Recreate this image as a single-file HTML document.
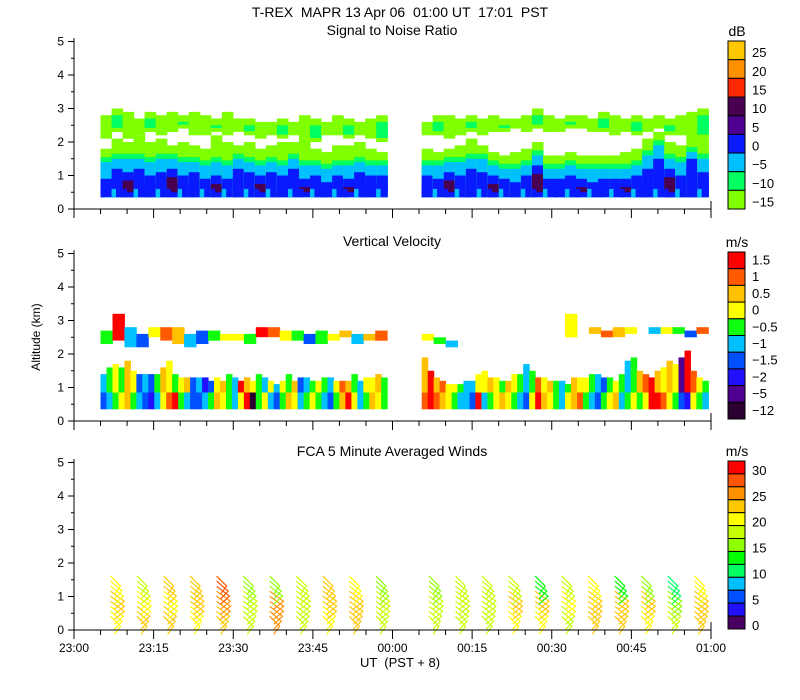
<!DOCTYPE html>
<html><head><meta charset="utf-8">
<style>
html,body{margin:0;padding:0;background:#fff;}
svg{display:block;font-family:"Liberation Sans",sans-serif;}
text{white-space:pre;}
</style></head>
<body>
<svg id="chart" width="800" height="700" viewBox="0 0 800 700" xmlns="http://www.w3.org/2000/svg">
<text x="400" y="17" font-size="14" text-anchor="middle">T-REX  MAPR 13 Apr 06  01:00 UT  17:01  PST</text>
<text x="392" y="35" font-size="14" text-anchor="middle">Signal to Noise Ratio</text>
<text x="392" y="246" font-size="14" text-anchor="middle">Vertical Velocity</text>
<text x="392" y="456" font-size="14" text-anchor="middle">FCA 5 Minute Averaged Winds</text>
<text x="40" y="337" font-size="12" text-anchor="middle" transform="rotate(-90 40 337)">Altitude (km)</text>
<text x="400" y="667" font-size="13" text-anchor="middle">UT  (PST + 8)</text>
<g id="g"></g>
</svg>
<script>
// ---- data ----
const xTickLabels=["23:00","23:15","23:30","23:45","00:00","00:15","00:30","00:45","01:00"];
const yTickLabels=["0","1","2","3","4","5"];
const snrLabels=["25","20","15","10","5","0","\u22125","\u221210","\u221215"];
const velLabels=["1.5","1","0.5","0","\u22120.5","\u22121","\u22121.5","\u22122","\u22125","\u221212"];
const windLabels=["30","25","20","15","10","5","0"];
const snrH1a=[0.9,1.2,1.1,1.2,1.0,1.1,1.2,1.0,1.1,0.9,1.0,0.9,1.2,1.1,1.0,1.1,1.0,1.2,0.9,1.0,0.8,1.0,0.9,1.1,1.0,1.0];
const snrH2a=[1.4,1.5,1.5,1.5,1.4,1.5,1.5,1.4,1.4,1.3,1.4,1.3,1.5,1.4,1.3,1.4,1.3,1.5,1.3,1.3,1.2,1.3,1.3,1.4,1.3,1.3];
const snrH4a=[1.8,2.1,2.0,2.2,2.0,2.1,1.9,2.0,1.9,1.8,2.2,2.0,1.9,2.0,1.8,1.9,2.0,2.0,2.1,1.8,1.7,1.9,1.9,2.0,1.8,1.7];
const snrCBa=[2.1,2.3,2.1,2.2,2.3,2.2,2.3,2.4,2.2,2.2,2.3,2.2,2.3,2.2,2.1,2.2,2.1,2.2,2.1,2.0,2.2,2.2,2.1,2.2,2.1,2.0];
const snrCTa=[2.8,3.0,2.9,2.7,2.9,2.8,2.9,2.8,2.9,2.8,2.7,2.9,2.7,2.7,2.6,2.6,2.7,2.6,2.8,2.7,2.6,2.8,2.7,2.6,2.7,2.8];
const snrH1b=[1.0,0.9,1.1,1.0,1.2,1.1,1.0,0.9,0.8,1.0,1.3,0.9,0.9,1.0,0.9,0.8,0.9,0.9,0.9,1.0,1.2,1.5,1.2,1.0,1.5,1.1];
const snrH2b=[1.3,1.3,1.4,1.4,1.5,1.5,1.3,1.2,1.2,1.3,1.6,1.2,1.2,1.3,1.2,1.2,1.2,1.2,1.2,1.3,1.6,1.9,1.5,1.4,1.7,1.5];
const snrH4b=[1.8,1.7,1.8,1.9,2.1,1.9,1.7,1.6,1.7,1.8,2.0,1.6,1.6,1.7,1.6,1.6,1.6,1.6,1.7,1.8,2.1,2.3,2.0,1.9,2.1,2.1];
const snrCBb=[2.2,2.2,2.1,2.2,2.3,2.2,2.3,2.3,2.4,2.3,2.4,2.3,2.3,2.4,2.4,2.3,2.3,2.2,2.3,2.2,2.3,2.4,2.2,2.2,2.1,2.1];
const snrCTb=[2.6,2.8,2.8,2.7,2.8,2.7,2.8,2.7,2.7,2.8,3.0,2.8,2.7,2.8,2.8,2.7,2.9,2.8,2.7,2.8,2.7,2.8,2.7,2.8,2.9,3.0];
const velLowA=[3,4,5,6,7,5,4,3,2,4,6,8,9,5,4,3,3,4,5,7,6,5,4,6,9,0,5,6,4,3,5,7,6,4,5,6,5,4,3,5,7,9,6,4,5,7,6,5];
const velUpA=[4,5,6,5,7,6,3,4,3,5,7,6,5,6,7,3,4,2,3,6,7,5,4,9,7,6,5,4,6,4,6,5,7,3,4,5,6,5,4,6,8,7,5,4,6,6,7,5];
const velTopA=[1.4,1.6,1.7,1.6,1.8,1.5,1.4,1.4,1.4,1.4,1.6,1.8,1.4,1.3,1.3,1.3,1.3,1.3,1.2,1.3,1.2,1.4,1.3,1.2,1.3,1.2,1.4,1.3,1.2,1.1,1.2,1.4,1.2,1.3,1.3,1.2,1.2,1.3,1.3,1.2,1.2,1.2,1.4,1.2,1.3,1.3,1.4,1.3];
const velLowB=[8,9,8,7,6,5,4,4,3,9,4,5,6,7,6,5,4,3,6,9,7,6,5,4,6,7,8,5,4,3,5,6,7,4,5,6,5,6,9,9,8,6,5,3,2,6,5,4];
const velUpB=[7,9,7,8,6,6,5,4,4,6,6,7,6,5,7,6,5,4,5,8,6,7,5,4,5,7,6,6,5,4,3,5,6,5,4,5,7,8,9,7,6,7,6,1,9,8,6,5];
const velTopB=[1.9,1.5,1.3,1.2,1.1,1.1,1.1,1.2,1.2,1.4,1.5,1.3,1.3,1.2,1.2,1.4,1.4,1.7,1.5,1.3,1.3,1.2,1.2,1.2,1.1,1.3,1.3,1.3,1.4,1.4,1.3,1.3,1.2,1.4,1.8,1.9,1.5,1.4,1.3,1.5,1.6,1.8,1.7,1.9,2.1,1.5,1.3,1.2];
const velCldBaseA=[2.3,2.4,2.2,2.2,2.5,2.4,2.3,2.2,2.3,2.4,2.4,2.4,2.3,2.5,2.5,2.4,2.4,2.3,2.3,2.4,2.5,2.3,2.4,2.4];
const velCldTopA=[2.7,3.2,2.8,2.6,2.8,2.8,2.8,2.6,2.7,2.7,2.6,2.6,2.6,2.8,2.8,2.7,2.7,2.6,2.7,2.6,2.7,2.6,2.6,2.7];
const velCldClsA=[5,9,4,3,6,8,7,4,3,5,6,6,5,9,8,6,5,3,5,6,7,4,7,8];
const velCldBaseB=[2.4,2.3,2.2,0,0,0,0,0,0,0,0,0,2.5,0,2.6,2.5,2.5,2.6,0,2.6,2.6,2.6,2.5,2.6];
const velCldTopB=[2.6,2.5,2.4,0,0,0,0,0,0,0,0,0,3.2,0,2.8,2.7,2.8,2.8,0,2.8,2.8,2.8,2.7,2.8];
const velCldClsB=[6,5,4,0,0,0,0,0,0,0,0,0,6,0,7,8,7,6,0,4,6,5,3,8];
const windTimes=[8,13,18,23,28,33,38,43,48,53,58,68,73,78,83,88,93,98,103,108,113,118];
const windSpdLow=[22,23,24,21,24,20,26,20,21,23,20,20,20,20,22,21,20,23,24,22,18,23];
const windSpdMid=[23,21,21,24,27,18,27,20,24,23,20,18,20,20,25,23,21,23,24,23,16,24];
const windSpdTop=[22,19,23,23,28,17,17,20,25,21,16,17,20,20,18,14,20,22,15,16,12,22];

const X0=74,X1=711;
function xs(min){return X0+(X1-X0)*min/120;}
const panels=[{y0:209,name:"snr"},{y0:421,name:"velocity"},{y0:630,name:"winds"}];
const KPX=33.5;
function ys(p,km){return panels[p].y0-km*KPX;}

const g=document.getElementById('g');
const NS="http://www.w3.org/2000/svg";
function el(t,a,parent){const e=document.createElementNS(NS,t);for(const k in a)e.setAttribute(k,a[k]);(parent||g).appendChild(e);return e;}

const snrColors=["#ffc800","#ff9000","#ff2800","#4a0050","#500090","#0a1aff","#00c0ff","#00ff60","#80ff00"];
// index 0 = -12 (dark) ... 9 = 1.5 (red)
const velColors=["#2a0030","#500090","#2010ff","#0050ff","#00c0ff","#10ff10","#ffff00","#ffc000","#ff5a00","#ff0000"];
const windColors=["#ff0000","#ff5500","#ff9000","#ffc800","#ffff00","#c8ff00","#90ff00","#00ff00","#00ff60","#00c0ff","#0050ff","#2010ff","#4a0060"];

function drawSnr(h1,h2,h4,cb,ct,t0,t1,seg){
  const n=h1.length,w=(xs(t1)-xs(t0))/n;
  const grp=el('g',{});
  
  
  for(let i=0;i<n;i++){
    const x=xs(t0)+i*w, base=0.35;
    const layers=[[cb[i],ct[i],8],[cb[i]+0.12,ct[i]-0.2,(i%3===1)?7:8],[base,h4[i],8],[base,h2[i]+0.15,7],[base,h2[i],6],[base,h1[i],5],[base+0.15,h1[i]-0.25,(i%4===2)?3:5]];
    for(const [a,b,c] of layers){
      if(b<=a)continue;
      const r=el('rect',{x:x.toFixed(1),y:ys(0,b).toFixed(1),width:(w+0.6).toFixed(1),height:((b-a)*KPX).toFixed(1),fill:snrColors[c]},grp);
      
      
    }
    const r2=el('rect',{x:x.toFixed(1),y:ys(0,0.6).toFixed(1),width:(w*0.4).toFixed(1),height:(0.25*KPX).toFixed(1),fill:snrColors[(i%2)?6:5]},grp);
    
    
  }
}
drawSnr(snrH1a,snrH2a,snrH4a,snrCBa,snrCTa,5,59,'a');
drawSnr(snrH1b,snrH2b,snrH4b,snrCBb,snrCTb,65.5,119.5,'b');

function drawVel(low,up,top,cbase,ctop,ccls,t0,t1,seg){
  const grp=el('g',{});
  
  
  const n=low.length,w=(xs(t1)-xs(t0))/n;
  for(let i=0;i<n;i++){
    const x=xs(t0)+i*w;
    const r1=el('rect',{x:x.toFixed(1),y:ys(1,0.85).toFixed(1),width:(w+0.5).toFixed(1),height:(0.5*KPX).toFixed(1),fill:velColors[low[i]]},grp);
    
    
    const r2=el('rect',{x:x.toFixed(1),y:ys(1,top[i]).toFixed(1),width:(w+0.5).toFixed(1),height:((top[i]-0.85)*KPX).toFixed(1),fill:velColors[up[i]]},grp);
    
    
  }
  const m=cbase.length,w2=(xs(t1)-xs(t0))/m;
  for(let i=0;i<m;i++){
    if(ctop[i]<=cbase[i])continue;
    const x=xs(t0)+i*w2;
    const r=el('rect',{x:x.toFixed(1),y:ys(1,ctop[i]).toFixed(1),width:(w2+0.5).toFixed(1),height:((ctop[i]-cbase[i])*KPX).toFixed(1),fill:velColors[ccls[i]]},grp);
    
    
  }
}
drawVel(velLowA,velUpA,velTopA,velCldBaseA,velCldTopA,velCldClsA,5,59,'a');
drawVel(velLowB,velUpB,velTopB,velCldBaseB,velCldTopB,velCldClsB,65.5,119.5,'b');

function windColor(s){let k=Math.floor((32.5-s)/2.5);return windColors[Math.max(0,Math.min(12,k))];}
windTimes.forEach((t,i)=>{
  const grp=el('g',{});
  
  
  const xc=xs(t);
  for(let j=0;j<9;j++){
    const h=0.05+j*0.15;
    const s=j<3?windSpdLow[i]:(j<6?windSpdMid[i]:windSpdTop[i]);
    const y=ys(2,h);
    const bend=4+4*Math.sin(j/8*Math.PI);
    const p=el('polyline',{points:`${(xc-6).toFixed(1)},${(y-12).toFixed(1)} ${(xc+bend).toFixed(1)},${(y-2).toFixed(1)} ${(xc-2).toFixed(1)},${(y+6).toFixed(1)}`,fill:'none',stroke:windColor(s),'stroke-width':1.2},grp);
    
    
  }
});

panels.forEach((p,pi)=>{
  const ax=el('g',{stroke:'#000','stroke-width':1,fill:'none'});
  
  
  el('line',{x1:X0,y1:ys(pi,5.1),x2:X0,y2:p.y0},ax);
  el('line',{x1:X0,y1:p.y0,x2:X1,y2:p.y0},ax);
  el('line',{x1:X1,y1:p.y0,x2:X1,y2:p.y0-8},ax);
  for(let k=0;k<=10;k++){const y=ys(pi,k/2);el('line',{x1:X0-(k%2?3:6),y1:y,x2:X0,y2:y},ax);}
  for(let m=0;m<=120;m+=5){const x=xs(m);el('line',{x1:x,y1:p.y0,x2:x,y2:p.y0+(m%15?5:9)},ax);}
  yTickLabels.forEach((l,k)=>{
    const t=el('text',{x:X0-10,y:ys(pi,k)+4,'font-size':12,'text-anchor':'end',fill:'#000'});
    t.textContent=l;
    
    
  });
});
xTickLabels.forEach((l,k)=>{
  const t=el('text',{x:xs(k*15),y:652,'font-size':12,'text-anchor':'middle',fill:'#000'});
  t.textContent=l;
  
  
});

function colorbar(name,unit,colors,labels,top,bottom,labelStep,labelOffset){
  const grp=el('g',{});
  
  
  const n=colors.length,h=(bottom-top)/n;
  colors.forEach((c,i)=>{
    const r=el('rect',{x:728,y:(top+i*h).toFixed(1),width:17,height:h.toFixed(1),fill:c,stroke:'#000','stroke-width':1},grp);
    
    
  });
  const u=el('text',{x:737,y:top-5,'font-size':14,'text-anchor':'middle'},grp);
  u.textContent=unit;
  
  
  labels.forEach((l,i)=>{
    const t=el('text',{x:752,y:(top+(labelOffset+i*labelStep)*h+5).toFixed(1),'font-size':13},grp);
    t.textContent=l;
    
    
  });
}
colorbar('snr-colorbar','dB',snrColors,snrLabels,41,209,1,0.6);
colorbar('velocity-colorbar','m/s',velColors.slice().reverse(),velLabels,252,419,1,0.45);
colorbar('winds-colorbar','m/s',windColors,windLabels,461,629,2,0.7);
</script>
</body></html>
